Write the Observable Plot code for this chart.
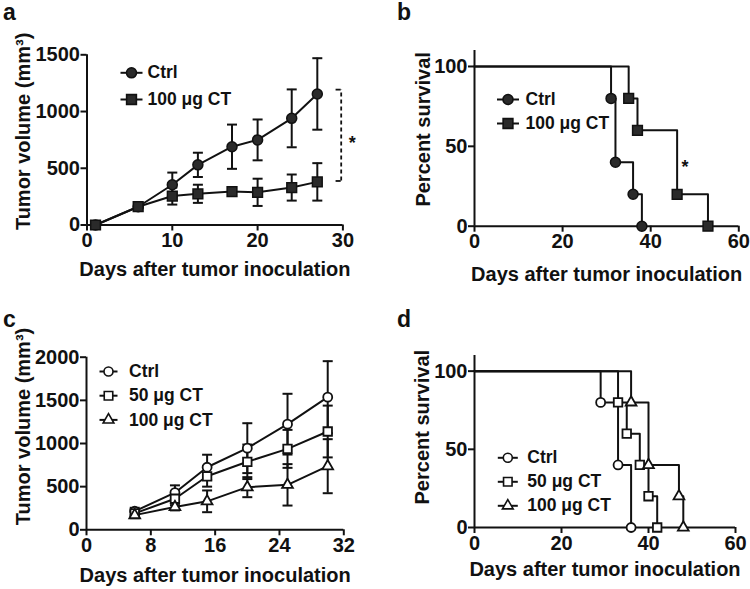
<!DOCTYPE html>
<html><head><meta charset="utf-8">
<script src="https://cdn.jsdelivr.net/npm/d3@7"></script>
<script src="https://cdn.jsdelivr.net/npm/@observablehq/plot@0.6"></script>
<style>
body{margin:0;background:#fff;}
#wrap{position:relative;width:750px;height:589px;font-family:"Liberation Sans",Arial,sans-serif;color:#111;}
.panel{position:absolute;}
.lab{position:absolute;font-weight:bold;font-size:23px;line-height:1;}
</style></head><body><div id="wrap"></div>
<script>
// ---------- Data ----------
// Panel a: tumor volume
const daysA = [1, 6, 10, 13, 17, 20, 24, 27];
const ctrlA = [0, 161, 355, 530, 690, 750, 940, 1155];
const ctrlA_sd = [0, 10, 107, 107, 195, 180, 255, 315];
const ct100A = [0, 161, 255, 275, 295, 288, 330, 380];
const ct100A_sd = [0, 10, 75, 80, 35, 120, 115, 165];
const seriesA = ["Ctrl", "100 μg CT"];
const bracketA = {x: 29.8, capX: 29.2, low: 388, high: 1193};
const starA = {x: 31.1, y: 765};

// Panel b: survival
const daysB_ctrl = [0, 31, 32, 36, 38];
const pctB_ctrl = [100, 80, 40, 20, 0];
const daysB_ct100 = [0, 35, 37, 46, 53];
const pctB_ct100 = [100, 80, 60, 20, 0];
const seriesB = ["Ctrl", "100 μg CT"];
const starB = {x: 47.8, y: 40};

// Panel c: tumor volume, three groups
const daysC = [6, 11, 15, 20, 25, 30];
const ctrlC = [215, 430, 725, 946, 1224, 1537];
const ctrlC_sd = [40, 85, 145, 289, 352, 417];
const ct50C = [190, 360, 620, 788, 938, 1139];
const ct50C_sd = [35, 75, 120, 200, 220, 300];
const ct100C = [170, 265, 330, 494, 521, 737];
const ct100C_sd = [35, 40, 126, 116, 240, 313];
const seriesC = ["Ctrl", "50 μg CT", "100 μg CT"];

// Panel d: survival, three groups
const daysD_ctrl = [0, 29, 33, 36];
const pctD_ctrl = [100, 80, 40, 0];
const daysD_ct50 = [0, 33, 35, 38, 40, 42];
const pctD_ct50 = [100, 80, 60, 40, 20, 0];
const daysD_ct100 = [0, 36, 40, 47, 48];
const pctD_ct100 = [100, 80, 40, 20, 0];
const seriesD = ["Ctrl", "50 μg CT", "100 μg CT"];

// Tick labels and titles
const ticksVolA = [0, 500, 1000, 1500];
const ticksDayA = [0, 10, 20, 30];
const ticksVolC = [0, 500, 1000, 1500, 2000];
const ticksDayC = [0, 8, 16, 24, 32];
const ticksSurv = [0, 50, 100];
const ticksDaySurv = [0, 20, 40, 60];
const titleVol = "Tumor volume (mm³)";
const titleSurv = "Percent survival";
const titleDays = "Days after tumor inoculation";
const panelLetters = ["a", "b", "c", "d"];

// ---------- Helpers ----------
const FONT = '"Liberation Sans", Arial, sans-serif';
const INK = "#111";
const capSym = {draw(ctx, size) { const w = Math.sqrt(size / Math.PI); ctx.moveTo(-w, 0); ctx.lineTo(w, 0); }};
const hline = capSym;

function rows(days, vals, sd, name) {
  return days.map((d, i) => ({day: d, v: vals[i], sd: sd ? sd[i] : 0, s: name}));
}

function axes(xTicks, yTicks) {
  return [
    Plot.ruleY([0], {stroke: INK, strokeWidth: 2}),
    Plot.ruleX([0], {stroke: INK, strokeWidth: 2}),
    Plot.axisX({ticks: xTicks, tickSize: 6, tickPadding: 2, strokeWidth: 2, stroke: INK, label: null, tickFormat: d => String(d), fontSize: 20, fontWeight: "bold", fill: INK}),
    Plot.axisY({ticks: yTicks, tickSize: 6, tickPadding: 1, strokeWidth: 2, stroke: INK, label: null, tickFormat: d => String(d), fontSize: 20, fontWeight: "bold", fill: INK})
  ];
}

function titles(yTitle, yDx, yDy, xDy) {
  return [
    Plot.text([yTitle], {text: d => d, frameAnchor: "left", rotate: -90, dx: yDx, dy: yDy, fontSize: 20, fontWeight: "bold", fill: INK, textAnchor: "middle"}),
    Plot.text([titleDays], {text: d => d, frameAnchor: "bottom", dy: xDy, fontSize: 20, fontWeight: "bold", fill: INK, textAnchor: "middle", lineAnchor: "middle"})
  ];
}

function legend(names, symbols, fill, lx, ly, step, half, textDx, r) {
  const out = [];
  names.forEach((n, i) => {
    const dy = ly + i * step;
    out.push(Plot.dot([n], {frameAnchor: "top-left", dx: lx, dy, symbol: hline, r: half, stroke: INK, strokeWidth: 2, fill: "none"}));
    out.push(Plot.dot([n], {frameAnchor: "top-left", dx: lx, dy, symbol: symbols[i], r: r[i], stroke: INK, strokeWidth: 1.6, fill}));
    out.push(Plot.text([n], {text: d => d, frameAnchor: "top-left", dx: lx + textDx, dy, textAnchor: "start", lineAnchor: "middle", fontSize: 17.5, fontWeight: "bold", fill: INK}));
  });
  return out;
}

function errorMarks(data) {
  const d = data.filter(r => r.sd > 0);
  return [
    Plot.ruleX(d, {x: "day", y1: r => r.v - r.sd, y2: r => r.v + r.sd, stroke: INK, strokeWidth: 2}),
    Plot.dot(d, {x: "day", y: r => r.v + r.sd, symbol: capSym, r: 5, stroke: INK, strokeWidth: 2, fill: "none"}),
    Plot.dot(d, {x: "day", y: r => r.v - r.sd, symbol: capSym, r: 5, stroke: INK, strokeWidth: 2, fill: "none"})
  ];
}

function mount(svg, left, top) {
  svg.classList.add("panel");
  svg.style.left = left + "px";
  svg.style.top = top + "px";
  document.getElementById("wrap").appendChild(svg);
}

const baseStyle = {fontFamily: FONT, fontSize: "20px", fontWeight: "bold", background: "transparent", overflow: "visible", color: INK};

// ---------- Panel a ----------
{
  const rc = rows(daysA, ctrlA, ctrlA_sd, seriesA[0]);
  const rt = rows(daysA, ct100A, ct100A_sd, seriesA[1]);
  const svg = Plot.plot({
    width: 375, height: 295,
    marginLeft: 86.5, marginRight: 32.6, marginTop: 54.3, marginBottom: 70.5,
    style: baseStyle,
    x: {domain: [0, 30]},
    y: {domain: [0, 1500]},
    marks: [
      ...axes(ticksDayA, ticksVolA),
      Plot.line(rc, {x: "day", y: "v", stroke: INK, strokeWidth: 2}),
      Plot.line(rt, {x: "day", y: "v", stroke: INK, strokeWidth: 2}),
      ...errorMarks(rc), ...errorMarks(rt),
      Plot.dot(rc, {x: "day", y: "v", symbol: "circle", r: 5, fill: "#2a2a2a", stroke: INK, strokeWidth: 1.5}),
      Plot.dot(rt, {x: "day", y: "v", symbol: "square", r: 5.5, fill: "#2a2a2a", stroke: INK, strokeWidth: 1.5}),
      Plot.ruleX([bracketA], {x: "x", y1: "low", y2: "high", stroke: INK, strokeWidth: 1.8, strokeDasharray: "4,3"}),
      Plot.ruleY([bracketA], {y: "low", x1: "capX", x2: "x", stroke: INK, strokeWidth: 1.8}),
      Plot.ruleY([bracketA], {y: "high", x1: "capX", x2: "x", stroke: INK, strokeWidth: 1.8}),
      Plot.text([starA], {x: "x", y: "y", text: () => "*", fontSize: 18, fontWeight: "bold", fill: INK, dy: 5}),
      ...legend(seriesA, ["circle", "square"], "#2a2a2a", 44.5, 18, 26.7, 11, 16, [5, 5.5]),
      ...titles(titleVol, -63.5, -8.5, 44.5)
    ]
  });
  mount(svg, 0, 0);
}

// ---------- Panel b ----------
{
  const rc = rows(daysB_ctrl, pctB_ctrl, null, seriesB[0]);
  const rt = rows(daysB_ct100, pctB_ct100, null, seriesB[1]);
  const svg = Plot.plot({
    width: 375, height: 295,
    marginLeft: 99, marginRight: 11.7, marginTop: 50, marginBottom: 69.3,
    style: baseStyle,
    x: {domain: [0, 60]},
    y: {domain: [0, 110]},
    marks: [
      ...axes(ticksDaySurv, ticksSurv),
      Plot.line(rc, {x: "day", y: "v", curve: "step-after", stroke: INK, strokeWidth: 2}),
      Plot.line(rt, {x: "day", y: "v", curve: "step-after", stroke: INK, strokeWidth: 2}),
      Plot.dot(rc.slice(1), {x: "day", y: "v", symbol: "circle", r: 5, fill: "#2a2a2a", stroke: INK, strokeWidth: 1.5}),
      Plot.dot(rt.slice(1), {x: "day", y: "v", symbol: "square", r: 5.5, fill: "#2a2a2a", stroke: INK, strokeWidth: 1.5}),
      Plot.text([starB], {x: "x", y: "y", text: () => "*", fontSize: 18, fontWeight: "bold", fill: INK, dy: 5}),
      ...legend(seriesB, ["circle", "square"], "#2a2a2a", 33.5, 49, 24, 11, 17.5, [5, 5.5]),
      ...titles(titleSurv, -51, -9, 48)
    ]
  });
  mount(svg, 375, 0);
}

// ---------- Panel c ----------
{
  const r1 = rows(daysC, ctrlC, ctrlC_sd, seriesC[0]);
  const r2 = rows(daysC, ct50C, ct50C_sd, seriesC[1]);
  const r3 = rows(daysC, ct100C, ct100C_sd, seriesC[2]);
  const svg = Plot.plot({
    width: 375, height: 294,
    marginLeft: 86, marginRight: 31.7, marginTop: 61.7, marginBottom: 59.7,
    style: baseStyle,
    x: {domain: [0, 32]},
    y: {domain: [0, 2000]},
    marks: [
      ...axes(ticksDayC, ticksVolC),
      Plot.line(r1, {x: "day", y: "v", stroke: INK, strokeWidth: 2}),
      Plot.line(r2, {x: "day", y: "v", stroke: INK, strokeWidth: 2}),
      Plot.line(r3, {x: "day", y: "v", stroke: INK, strokeWidth: 2}),
      ...errorMarks(r1), ...errorMarks(r2), ...errorMarks(r3),
      Plot.dot(r1, {x: "day", y: "v", symbol: "circle", r: 4.5, fill: "white", stroke: INK, strokeWidth: 1.8}),
      Plot.dot(r2, {x: "day", y: "v", symbol: "square", r: 4.8, fill: "white", stroke: INK, strokeWidth: 1.8}),
      Plot.dot(r3, {x: "day", y: "v", symbol: "triangle", r: 4, fill: "white", stroke: INK, strokeWidth: 1.8}),
      ...legend(seriesC, ["circle", "square", "triangle"], "white", 22, 14.3, 24.2, 9, 20.5, [4.5, 4.8, 4]),
      ...titles(titleVol, -63, -17, 46)
    ]
  });
  mount(svg, 0, 295);
}

// ---------- Panel d ----------
{
  const r1 = rows(daysD_ctrl, pctD_ctrl, null, seriesD[0]);
  const r2 = rows(daysD_ct50, pctD_ct50, null, seriesD[1]);
  const r3 = rows(daysD_ct100, pctD_ct100, null, seriesD[2]);
  const svg = Plot.plot({
    width: 375, height: 294,
    marginLeft: 99, marginRight: 15, marginTop: 60, marginBottom: 62,
    style: baseStyle,
    x: {domain: [0, 60]},
    y: {domain: [0, 110]},
    marks: [
      ...axes(ticksDaySurv, ticksSurv),
      Plot.line(r1, {x: "day", y: "v", curve: "step-after", stroke: INK, strokeWidth: 2}),
      Plot.line(r2, {x: "day", y: "v", curve: "step-after", stroke: INK, strokeWidth: 2}),
      Plot.line(r3, {x: "day", y: "v", curve: "step-after", stroke: INK, strokeWidth: 2}),
      Plot.dot(r1.slice(1), {x: "day", y: "v", symbol: "circle", r: 4.5, fill: "white", stroke: INK, strokeWidth: 1.8}),
      Plot.dot(r2.slice(1), {x: "day", y: "v", symbol: "square", r: 4.8, fill: "white", stroke: INK, strokeWidth: 1.8}),
      Plot.dot(r3.slice(1), {x: "day", y: "v", symbol: "triangle", r: 4, fill: "white", stroke: INK, strokeWidth: 1.8}),
      ...legend(seriesD, ["circle", "square", "triangle"], "white", 33.3, 102.3, 24, 10, 19.5, [4.5, 4.8, 4]),
      ...titles(titleSurv, -51.5, -14.3, 42)
    ]
  });
  mount(svg, 375, 295);
}

// ---------- Panel letters ----------
const letterPos = [[3, 1], [397, 1], [3, 308], [397, 308]];
panelLetters.forEach((t, i) => {
  const el = document.createElement("div");
  el.className = "lab";
  el.textContent = t;
  el.style.left = letterPos[i][0] + "px";
  el.style.top = letterPos[i][1] + "px";
  document.getElementById("wrap").appendChild(el);
});
</script>
</body></html>
